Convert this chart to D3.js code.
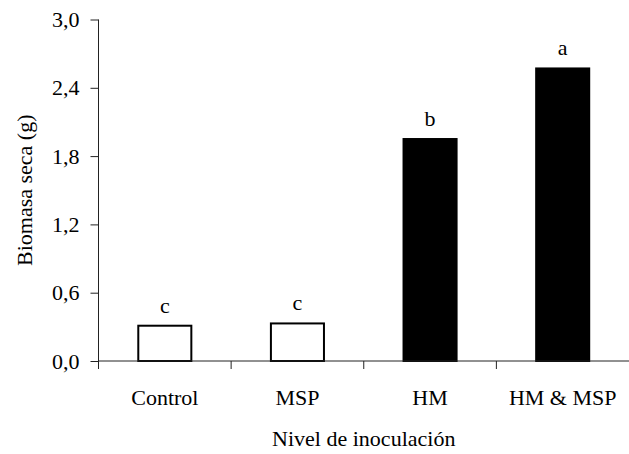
<!DOCTYPE html>
<html>
<head>
<meta charset="utf-8">
<script src="https://cdn.jsdelivr.net/npm/d3@7"></script>
<style>
  html, body { margin: 0; padding: 0; background: #fff; }
</style>
</head>
<body>
<svg id="chart" width="629" height="454"></svg>
<script>
// Dry biomass per inoculation level, with significance letters
const categories = ["Control", "MSP", "HM", "HM & MSP"];
const biomass = [0.31, 0.33, 1.95, 2.57];
const letters = ["c", "c", "b", "a"];
const fills = ["#fff", "#fff", "#000", "#000"];
const yTicks = [0, 0.6, 1.2, 1.8, 2.4, 3.0];

const FONT = "'Liberation Serif', 'Times New Roman', Times, 'DejaVu Serif', serif";

const svg = d3.select("#chart");
const plotLeft = 98.5, plotRight = 629, plotTop = 19.5, plotBottom = 361;

const x = d3.scaleBand().domain(categories).range([plotLeft, plotRight])
  .paddingInner(0.6).paddingOuter(0.3);
const y = d3.scaleLinear().domain([0, 3]).range([plotBottom, plotTop]);

const fmt = v => d3.format(".1f")(v).replace(".", ",");

const styleText = sel => sel
  .style("font-family", FONT)
  .style("font-size", "22px")
  .style("fill", "#000");

// Bars
svg.append("g").selectAll("rect")
  .data(categories)
  .join("rect")
  .attr("x", d => x(d))
  .attr("y", (d, i) => y(biomass[i]))
  .attr("width", x.bandwidth())
  .attr("height", (d, i) => y(0) - y(biomass[i]))
  .attr("fill", (d, i) => fills[i])
  .attr("stroke", "#000")
  .attr("stroke-width", 2);

// Significance letters above bars
svg.append("g").selectAll("text")
  .data(categories)
  .join("text")
  .attr("x", d => x(d) + x.bandwidth() / 2)
  .attr("y", (d, i) => y(biomass[i]) - 13)
  .attr("text-anchor", "middle")
  .text((d, i) => letters[i])
  .call(styleText);

// Y axis
const yAxis = svg.append("g")
  .attr("transform", `translate(${plotLeft},0)`)
  .call(d3.axisLeft(y).tickValues(yTicks).tickFormat(fmt).tickSize(8).tickPadding(11));
yAxis.select(".domain").attr("stroke", "#222").attr("d", `M0,${plotTop}V${plotBottom}`);
yAxis.selectAll(".tick line").attr("stroke", "#222");
yAxis.selectAll(".tick text").call(styleText);

// X axis: category labels at band centres, ticks at band boundaries
const xAxis = svg.append("g")
  .attr("transform", `translate(0,${plotBottom})`)
  .call(d3.axisBottom(x).tickSize(0).tickPadding(28));
xAxis.select(".domain").attr("stroke", "#222").attr("d", `M${plotLeft},0H${plotRight}`);
xAxis.selectAll(".tick text").call(styleText);

const bounds = categories.map(d => x(d) - x.step() * x.paddingOuter());
svg.append("g").selectAll("line")
  .data(bounds)
  .join("line")
  .attr("x1", d => d).attr("x2", d => d)
  .attr("y1", plotBottom).attr("y2", plotBottom + 8)
  .attr("stroke", "#222");

// Axis titles
svg.append("text")
  .attr("x", (plotLeft + plotRight) / 2)
  .attr("y", 446)
  .attr("text-anchor", "middle")
  .text("Nivel de inoculación")
  .call(styleText);

svg.append("text")
  .attr("transform", `translate(32,${(plotTop + plotBottom) / 2}) rotate(-90)`)
  .attr("text-anchor", "middle")
  .text("Biomasa seca (g)")
  .call(styleText);
</script>
</body>
</html>
